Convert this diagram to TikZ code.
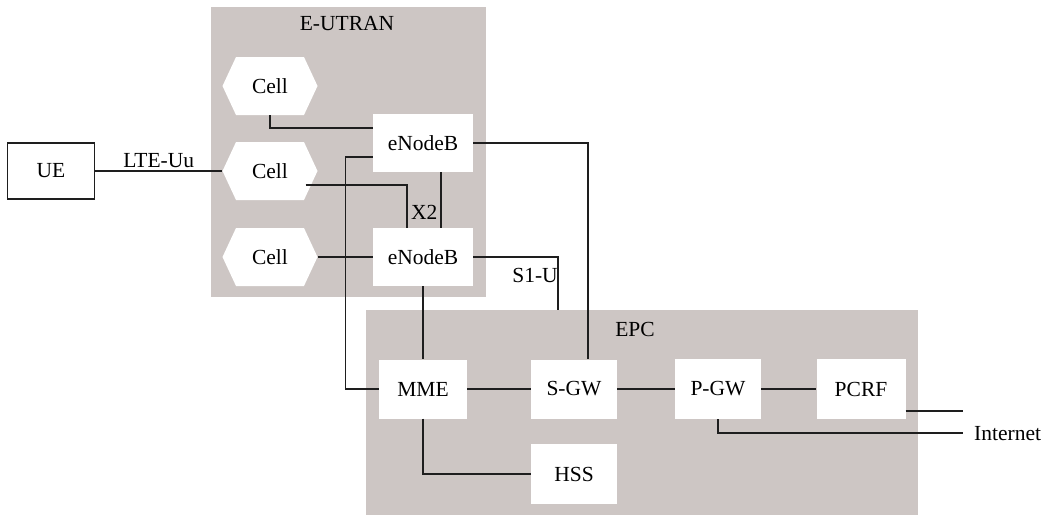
\documentclass[tikz,border=0pt]{standalone}
\usepackage{fontspec}
\setmainfont{Liberation Serif}
\usetikzlibrary{shapes.symbols,calc}
\definecolor{boxgray}{RGB}{205,198,196}
\definecolor{linecol}{RGB}{30,30,30}
\begin{document}
\begin{tikzpicture}[x=1pt,y=-1pt,
  every node/.style={font=\fontsize{21.5}{25}\selectfont, text=black},
  area/.style={fill=boxgray, draw=none, inner sep=0, anchor=north west},
  blk/.style={fill=white, draw=none, minimum width=88pt, minimum height=59pt, inner sep=0},
  enb/.style={blk, minimum width=100pt, minimum height=58pt},
  cellhex/.style={signal, signal to=east and west, signal pointer angle=130, fill=white, draw=none, minimum width=95pt, minimum height=58pt, inner sep=0},
  uebox/.style={fill=white, draw=linecol, line width=1.2pt, minimum width=87pt, minimum height=56pt, inner sep=0},
  conn/.style={line width=1.3pt, draw=linecol},
  lbl/.style={inner sep=0}
]
\useasboundingbox (0,0) rectangle (1054,514);
% areas
\node[area, minimum width=275pt, minimum height=290pt] (eutran) at (211,7) {};
\node[area, minimum width=552pt, minimum height=210pt] (epc) at (366,310) {};
\node[lbl] (eutranlbl) at (347,24) {E-UTRAN};
\node[lbl] (epclbl) at (635,329) {EPC};
% nodes
\node[uebox] (ue) at (51,171) {UE};
\node[cellhex] (c1) at (270,86) {Cell};
\node[cellhex] (c2) at (270,171) {Cell};
\node[cellhex] (c3) at (270,257) {Cell};
\node[enb] (enb1) at (423,143) {eNodeB};
\node[enb] (enb2) at (423,257) {eNodeB};
\node[blk] (mme) at (423,389) {MME};
\node[blk, minimum width=86pt] (sgw) at (574,389) {S-GW};
\node[blk, minimum width=86pt, minimum height=60pt] (hss) at (574,474) {HSS};
\node[blk, minimum width=86pt, minimum height=60pt] (pgw) at (718,389) {P-GW};
\node[blk, minimum width=89pt, minimum height=60pt] (pcrf) at (861,389) {PCRF};
\node[lbl, anchor=west] (inet) at (974,434) {Internet};
\node[lbl] (s1u) at (535,275) {S1-U};
\coordinate (pcrfend) at (963,411);
\coordinate (inetend) at (963,433);
% connectors
\draw[conn] (ue.east) -- (c2.west) node[midway, above=3pt, lbl] (lteuu) {LTE-Uu};
\draw[conn] (c1.south) |- ($(enb1.west)+(0,-15)$);
\draw[conn] (enb1.east) -| ($(sgw.north)+(14,0)$);
\draw[conn] ($(enb1.west)+(0,14)$) -- ++(-27,0) |- (mme.west);
\draw[conn] ($(c2.east)+(-12,14)$) -| ($(enb2.north)+(-16,0)$);
\draw[conn] ($(enb1.south)+(18,0)$) -- ($(enb2.north)+(18,0)$)
  node[midway, left=3pt, lbl, yshift=-12pt] (x2) {X2};
\draw[conn] (c3.east) -- (enb2.west);
\draw[conn] (enb2.east) -| ($(sgw.north |- epc.north)+(-16,0)$);
\draw[conn] (enb2.south) -- (mme.north);
\draw[conn] (mme) -- (sgw);
\draw[conn] (sgw) -- (pgw);
\draw[conn] (pgw) -- (pcrf);
\draw[conn] (mme.south) |- (hss.west);
\draw[conn] ($(pcrf.east)+(0,22)$) -- (pcrfend);
\draw[conn] (pgw.south) |- (inetend);
\end{tikzpicture}
\end{document}
